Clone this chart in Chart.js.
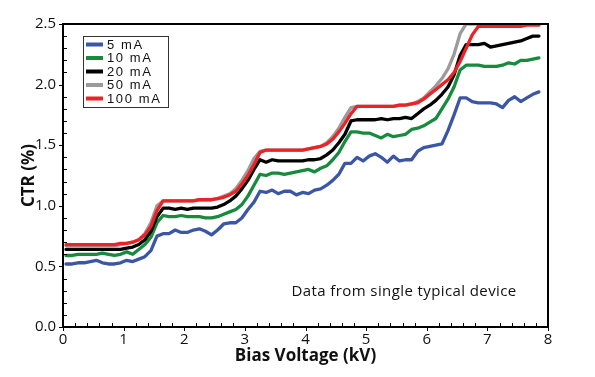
<!DOCTYPE html>
<html>
<head>
<meta charset="utf-8">
<script src="https://cdn.jsdelivr.net/npm/chart.js@4.4.0/dist/chart.umd.min.js"></script>
<style>
  html, body { margin: 0; padding: 0; background: #ffffff; }
  #wrap { width: 595px; height: 377px; position: relative; }
</style>
</head>
<body>
<div id="wrap"><canvas id="c" width="595" height="377"></canvas></div>
<script>
// Bias voltage (kV)
const voltage = [0.05,0.15,0.25,0.35,0.45,0.55,0.65,0.75,0.85,0.95,
  1.05,1.15,1.25,1.35,1.45,1.55,1.65,1.75,1.85,1.95,
  2.05,2.15,2.25,2.35,2.45,2.55,2.65,2.75,2.85,2.95,
  3.05,3.15,3.25,3.35,3.45,3.55,3.65,3.75,3.85,3.95,
  4.05,4.15,4.25,4.35,4.45,4.55,4.65,4.75,4.85,4.95,
  5.05,5.15,5.25,5.35,5.45,5.55,5.65,5.75,5.85,5.95,
  6.05,6.15,6.25,6.35,6.45,6.55,6.65,6.75,6.85,6.95,
  7.05,7.15,7.25,7.35,7.45,7.55,7.65,7.75,7.85];

// CTR (%) per drive current
const ctr5mA = [0.52,0.52,0.53,0.53,0.54,0.55,0.53,0.52,0.52,0.53,
  0.55,0.54,0.56,0.58,0.63,0.75,0.77,0.77,0.80,0.78,
  0.78,0.80,0.81,0.79,0.76,0.80,0.85,0.86,0.86,0.90,
  0.97,1.03,1.12,1.11,1.13,1.10,1.12,1.12,1.09,1.11,
  1.10,1.13,1.14,1.17,1.21,1.26,1.35,1.35,1.40,1.37,
  1.41,1.43,1.40,1.36,1.41,1.37,1.38,1.38,1.45,1.48,
  1.49,1.50,1.51,1.62,1.75,1.89,1.89,1.86,1.85,1.85,
  1.85,1.84,1.81,1.87,1.90,1.86,1.89,1.92,1.94];

const ctr10mA = [0.59,0.59,0.60,0.60,0.60,0.60,0.61,0.60,0.59,0.60,
  0.62,0.60,0.64,0.68,0.74,0.86,0.92,0.91,0.91,0.92,
  0.91,0.91,0.91,0.90,0.90,0.91,0.93,0.95,0.97,1.01,
  1.08,1.17,1.26,1.25,1.27,1.27,1.26,1.27,1.28,1.29,
  1.30,1.28,1.31,1.33,1.38,1.44,1.53,1.61,1.61,1.60,
  1.60,1.58,1.56,1.59,1.57,1.58,1.59,1.63,1.64,1.66,
  1.69,1.72,1.80,1.88,1.98,2.12,2.16,2.16,2.16,2.15,
  2.15,2.15,2.16,2.18,2.17,2.20,2.20,2.21,2.22];

const ctr20mA = [0.64,0.64,0.64,0.64,0.64,0.64,0.64,0.64,0.64,0.64,
  0.65,0.66,0.68,0.72,0.79,0.91,0.98,0.98,0.97,0.98,
  0.97,0.98,0.98,0.98,0.98,0.99,1.01,1.04,1.08,1.14,
  1.21,1.30,1.38,1.36,1.38,1.37,1.37,1.37,1.37,1.37,
  1.38,1.38,1.39,1.42,1.46,1.52,1.59,1.70,1.71,1.71,
  1.71,1.71,1.72,1.71,1.72,1.72,1.73,1.72,1.76,1.80,
  1.83,1.87,1.92,1.98,2.08,2.24,2.33,2.33,2.33,2.34,
  2.31,2.32,2.33,2.34,2.35,2.36,2.38,2.40,2.40];

const ctr50mA = [0.67,0.67,0.67,0.67,0.67,0.67,0.67,0.67,0.67,0.68,
  0.69,0.70,0.72,0.77,0.86,1.00,1.04,1.04,1.04,1.04,
  1.04,1.04,1.05,1.05,1.05,1.06,1.08,1.10,1.14,1.21,
  1.29,1.39,1.45,1.46,1.46,1.46,1.46,1.46,1.46,1.46,
  1.47,1.48,1.49,1.52,1.57,1.64,1.73,1.81,1.82,1.82,
  1.82,1.82,1.82,1.82,1.82,1.83,1.83,1.84,1.86,1.89,
  1.94,1.99,2.05,2.13,2.25,2.42,2.50,2.50,2.50,2.50,
  2.50,2.50,2.50,2.50,2.50,2.50,2.50,2.50,2.50];

const ctr100mA = [0.68,0.68,0.68,0.68,0.68,0.68,0.68,0.68,0.68,0.69,
  0.69,0.70,0.72,0.76,0.83,0.96,1.04,1.04,1.04,1.04,
  1.04,1.04,1.05,1.05,1.05,1.06,1.07,1.09,1.12,1.18,
  1.25,1.34,1.44,1.46,1.46,1.46,1.46,1.46,1.46,1.46,
  1.47,1.48,1.49,1.51,1.55,1.61,1.68,1.76,1.82,1.82,
  1.82,1.82,1.82,1.82,1.82,1.83,1.83,1.84,1.85,1.88,
  1.92,1.96,2.00,2.04,2.10,2.19,2.30,2.41,2.48,2.48,
  2.48,2.48,2.48,2.48,2.48,2.48,2.49,2.49,2.49];

const seriesLabels = ['5 mA', '10 mA', '20 mA', '50 mA', '100 mA'];
const seriesColors = ['#3c56a6', '#188a3d', '#000000', '#9b9b9b', '#ec2227'];
const seriesValues = [ctr5mA, ctr10mA, ctr20mA, ctr50mA, ctr100mA];
const drawOrder = [4, 3, 2, 1, 0]; // lower = drawn on top (red on top)

const xTitle = 'Bias Voltage (kV)';
const yTitle = 'CTR (%)';
const noteText = 'Data from single typical device';

const datasets = seriesLabels.map((lab, i) => ({
  label: lab,
  data: voltage.map((v, k) => ({ x: v, y: seriesValues[i][k] })),
  borderColor: seriesColors[i],
  backgroundColor: seriesColors[i],
  borderWidth: 3.3,
  pointRadius: 0,
  tension: 0,
  fill: false,
  borderJoinStyle: 'round',
  borderCapStyle: 'round',
  order: drawOrder[i]
}));

const framePlugin = {
  id: 'frame',
  afterDatasetsDraw(chart) {
    const { ctx, chartArea: a, scales: { x, y } } = chart;
    ctx.save();
    ctx.strokeStyle = '#000';
    // minor / major ticks
    ctx.lineWidth = 1;
    ctx.beginPath();
    for (let v = 0; v <= 8.0001; v += 0.2) {
      const px = Math.round(x.getPixelForValue(v)) + 0.5;
      const major = Math.abs(v - Math.round(v)) < 1e-6;
      if (major) { ctx.moveTo(px, a.bottom); ctx.lineTo(px, a.bottom + 4); }
      else { ctx.moveTo(px, a.bottom); ctx.lineTo(px, a.bottom - 4); }
    }
    for (let v = 0; v <= 2.5001; v += 0.1) {
      const py = Math.round(y.getPixelForValue(v)) + 0.5;
      const major = Math.abs(v * 2 - Math.round(v * 2)) < 1e-6;
      if (major) { ctx.moveTo(a.left, py); ctx.lineTo(a.left - 4, py); }
      else { ctx.moveTo(a.left, py); ctx.lineTo(a.left + 4, py); }
    }
    ctx.stroke();
    // plot frame
    ctx.lineWidth = 2;
    ctx.strokeRect(a.left, a.top, a.right - a.left, a.bottom - a.top);

    // annotation text
    ctx.fillStyle = '#111';
    ctx.font = '15px "Open Sans"';
    try { ctx.letterSpacing = '0.4px'; } catch (e) {}
    ctx.textAlign = 'left';
    ctx.textBaseline = 'middle';
    ctx.fillText(noteText, x.getPixelForValue(3.77), y.getPixelForValue(0.29));

    // legend
    const bx = 83, by = 36, bw = 85, bh = 71;
    ctx.fillStyle = '#fff';
    ctx.fillRect(bx, by, bw, bh);
    ctx.lineWidth = 1;
    ctx.strokeStyle = '#333';
    ctx.strokeRect(bx + 0.5, by + 0.5, bw, bh);
    ctx.font = '13px "Liberation Sans"';
    try { ctx.letterSpacing = '1.6px'; } catch (e) {}
    seriesLabels.forEach((lab, i) => {
      const ry = by + 8.5 + i * 13.5;
      ctx.strokeStyle = seriesColors[i];
      ctx.lineWidth = 4;
      ctx.beginPath();
      ctx.moveTo(86, ry);
      ctx.lineTo(103, ry);
      ctx.stroke();
      ctx.fillStyle = '#111';
      ctx.fillText(lab, 107, ry + 0.5);
    });
    ctx.restore();
  }
};

new Chart(document.getElementById('c'), {
  type: 'line',
  data: { datasets },
  options: {
    responsive: false,
    animation: false,
    devicePixelRatio: 1,
    layout: { padding: { top: 24, right: 47, left: 0, bottom: 0 } },
    plugins: { legend: { display: false }, tooltip: { enabled: false } },
    scales: {
      x: {
        type: 'linear', min: 0, max: 8,
        grid: { display: false, drawTicks: false },
        border: { display: false },
        ticks: { stepSize: 1, color: '#111', padding: 4, maxRotation: 0,
          font: { family: 'Open Sans', size: 15 } },
        title: { display: true, text: xTitle, color: '#111',
          font: { family: 'Open Sans', size: 17, weight: 'bold' },
          padding: { top: 0, bottom: 11 } },
        afterFit: s => { s.height = 50; }
      },
      y: {
        type: 'linear', min: 0, max: 2.5,
        grid: { display: false, drawTicks: false },
        border: { display: false },
        ticks: { stepSize: 0.5, color: '#111', padding: 7,
          font: { family: 'Open Sans', size: 15 },
          callback: v => v.toFixed(1) },
        title: { display: true, text: yTitle, color: '#111',
          font: { family: 'Open Sans', size: 17, weight: 'bold' },
          padding: { top: 19, bottom: 0 } },
        afterFit: s => { s.width = 63; }
      }
    }
  },
  plugins: [framePlugin]
});
</script>
</body>
</html>
